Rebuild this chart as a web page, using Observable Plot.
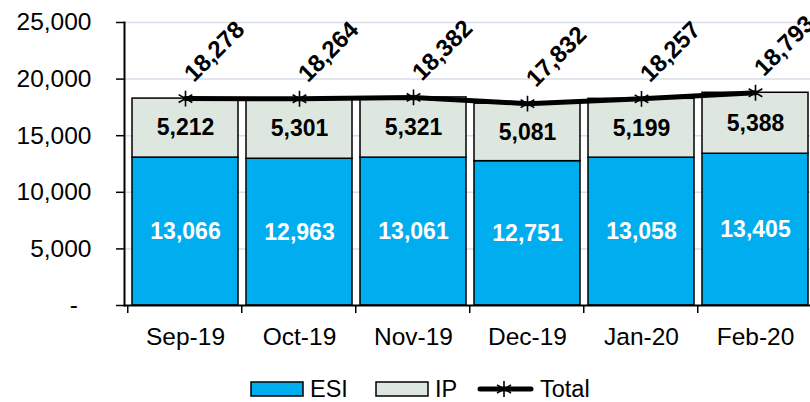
<!DOCTYPE html>
<html>
<head>
<meta charset="utf-8">
<script src="https://cdn.jsdelivr.net/npm/d3@7"></script>
<script src="https://cdn.jsdelivr.net/npm/@observablehq/plot@0.6"></script>
<style>
  html, body { margin: 0; padding: 0; background: #fff; overflow: hidden; width: 810px; height: 402px; position: relative; }
  #chart svg { display: block; overflow: hidden; }
  .legend { position: absolute; left: 0; top: 376px; width: 810px; height: 26px; font-family: Arial, "Liberation Sans", sans-serif; font-size: 23.5px; line-height: 26px; color: #000; }
  .legend .item { position: absolute; top: 0; display: flex; align-items: center; height: 26px; }
  .legend svg { display: block; margin-right: 6px; }
</style>
</head>
<body>
<div id="chart"></div>
<div class="legend" id="legend"></div>
<script>
const months = ["Sep-19", "Oct-19", "Nov-19", "Dec-19", "Jan-20", "Feb-20"];
const esi = [13066, 12963, 13061, 12751, 13058, 13405];
const ip = [5212, 5301, 5321, 5081, 5199, 5388];
const total = [18278, 18264, 18382, 17832, 18257, 18793];
const yTicks = [0, 5000, 10000, 15000, 20000, 25000];
const seriesNames = ["ESI", "IP"];
const colors = ["#00AEEF", "#DEE7DF"];

const stacked = [];
months.forEach((m, i) => {
  stacked.push({month: m, series: "ESI", value: esi[i], mid: esi[i] / 2, label: d3.format(",")(esi[i])});
  stacked.push({month: m, series: "IP", value: ip[i], mid: esi[i] + ip[i] / 2, label: d3.format(",")(ip[i])});
});
const totals = months.map((m, i) => ({month: m, total: total[i]}));

const W = 810, H = 376;
const left = 124, right = 817;
const bw = (right - left) / months.length;
const font = "Arial, 'Liberation Sans', sans-serif";

const chart = Plot.plot({
  width: W,
  height: H,
  marginLeft: left,
  marginRight: 0,
  marginTop: 22,
  marginBottom: H - 305,
  style: {fontFamily: font, fontSize: "24px", color: "#000", background: "#fff"},
  x: {domain: months, range: [left, right], padding: 0.07, label: null},
  y: {domain: [0, 25000], label: null},
  color: {domain: seriesNames, range: colors},
  marks: [
    Plot.gridY(yTicks.slice(1), {stroke: "#D8DDE9", strokeOpacity: 1, strokeWidth: 1.5}),
    Plot.barY(stacked, Plot.stackY({x: "month", y: "value", fill: "series", stroke: "#000", strokeWidth: 1.5, order: seriesNames})),
    Plot.text(stacked, {x: "month", y: "mid", text: "label", fill: d => d.series === "ESI" ? "#fff" : "#000", fontWeight: "bold", fontSize: 23}),
    Plot.ruleY([0], {stroke: "#000", strokeWidth: 2}),
    Plot.frame({anchor: "left", stroke: "#000", strokeWidth: 2}),
    Plot.axisY({ticks: yTicks, tickSize: 8, tickPadding: 25, fontSize: 24.5, fontWeight: "normal", strokeWidth: 1.5,
      tickFormat: d => d === 0 ? "-\u00a0\u00a0" : d3.format(",")(d), label: null}),
    Plot.axisX({text: null, tickSize: 8, strokeWidth: 1.5, dx: -bw / 2, label: null}),
    Plot.axisX({tickSize: 0, tickPadding: 22, fontSize: 24.5, fontWeight: "normal", label: null}),
    Plot.line(totals, {x: "month", y: "total", stroke: "#000", strokeWidth: 5}),
    Plot.dot(totals, {x: "month", y: "total", symbol: "asterisk", r: 7.5, stroke: "#000", strokeWidth: 1.6}),
    Plot.text(totals, {x: "month", y: "total", text: d => d3.format(",")(d.total), rotate: -45, dx: 29, dy: -47, fontWeight: "bold", fontSize: 24, fill: "#000"})
  ]
});
document.getElementById("chart").appendChild(chart);

// Legend
const legend = document.getElementById("legend");
const items = [
  {name: "ESI", kind: "rect", color: colors[0], x: 250},
  {name: "IP", kind: "rect", color: colors[1], x: 375},
  {name: "Total", kind: "line", color: "#000", x: 477}
];
items.forEach(it => {
  const div = document.createElement("div");
  div.className = "item";
  div.style.left = it.x + "px";
  let sw;
  if (it.kind === "rect") {
    sw = `<svg width="54" height="16"><rect x="1" y="1" width="52" height="14" fill="${it.color}" stroke="#000" stroke-width="1.5"/></svg>`;
  } else {
    sw = `<svg width="57" height="18"><line x1="3" y1="9" x2="54" y2="9" stroke="#000" stroke-width="5" stroke-linecap="round"/>
      <g transform="translate(27,9)" stroke="#000" stroke-width="1.6"><line x1="0" y1="-8" x2="0" y2="8"/><line x1="-7" y1="-4" x2="7" y2="4"/><line x1="-7" y1="4" x2="7" y2="-4"/></g></svg>`;
  }
  div.innerHTML = sw + `<span>${it.name}</span>`;
  legend.appendChild(div);
});
</script>
</body>
</html>
